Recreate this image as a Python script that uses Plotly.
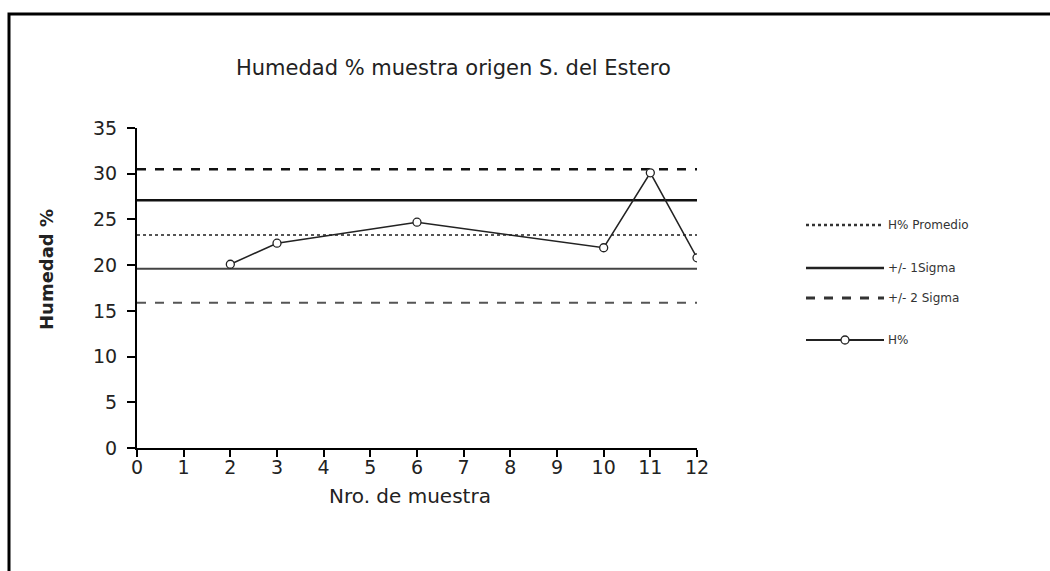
import plotly.graph_objects as go

# Moisture readings per sample number
muestras = [2, 3, 6, 10, 11, 12]
humedad = [20.1, 22.4, 24.7, 21.9, 30.1, 20.8]

# Control limits (mean and sigma bands)
x_limites = [0, 12]
promedio = 23.3
mas_1sigma = 27.1
menos_1sigma = 19.6
mas_2sigma = 30.5
menos_2sigma = 15.9

x_ticks = list(range(0, 13))
y_ticks = list(range(0, 36, 5))

FONT = "DejaVu Sans"

fig = go.Figure()

def limite(valor, dash, color, width):
    fig.add_trace(go.Scatter(
        x=x_limites, y=[valor, valor], mode="lines",
        line=dict(color=color, width=width, dash=dash),
        showlegend=False, hoverinfo="skip"))

limite(promedio, "dot", "#555555", 2)
limite(mas_1sigma, "solid", "#111111", 2.5)
limite(menos_1sigma, "solid", "#444444", 2)
limite(mas_2sigma, "dash", "#111111", 2.5)
limite(menos_2sigma, "dash", "#555555", 2)

fig.add_trace(go.Scatter(
    x=muestras, y=humedad, mode="lines+markers",
    line=dict(color="#222222", width=1.5),
    marker=dict(symbol="circle", size=8, color="white",
                line=dict(color="#222222", width=1.3)),
    showlegend=False))

# Plot area spans 560 x 320 px; helpers convert page pixels to paper coords
L, T, W, H = 137, 128, 560, 320
def px(x):
    return (x - L) / W
def py(y):
    return (T + H - y) / H

shapes = [dict(type="rect", xref="paper", yref="paper",
               x0=px(9), x1=px(1080), y0=py(14), y1=py(600),
               line=dict(color="black", width=3), fillcolor="rgba(0,0,0,0)")]

annotations = [
    dict(text="Humedad % muestra origen S. del Estero", xref="paper", yref="paper",
         x=px(453), y=py(68), xanchor="center", yanchor="middle", showarrow=False,
         font=dict(family=FONT, size=21, color="#222222")),
    dict(text="<b>Humedad %</b>", xref="paper", yref="paper",
         x=px(46), y=py(270), xanchor="center", yanchor="middle", showarrow=False,
         textangle=-90, font=dict(family=FONT, size=18, color="#222222")),
    dict(text="Nro. de muestra", xref="paper", yref="paper",
         x=px(410), y=py(496), xanchor="center", yanchor="middle", showarrow=False,
         font=dict(family=FONT, size=20, color="#222222")),
]

# Legend drawn beside the plot
leyenda = [
    ("H% Promedio", "dot", "#333333", 2.5, False, 225),
    ("+/- 1Sigma", "solid", "#222222", 2.5, False, 268),
    ("+/- 2 Sigma", "dash", "#333333", 3, False, 298),
    ("H%", "solid", "#222222", 2, True, 340),
]
for texto, dash, color, width, marca, yy in leyenda:
    shapes.append(dict(type="line", xref="paper", yref="paper",
                       x0=px(806), x1=px(884), y0=py(yy), y1=py(yy),
                       line=dict(color=color, width=width, dash=dash)))
    if marca:
        shapes.append(dict(type="circle", xref="paper", yref="paper",
                           x0=px(841), x1=px(849), y0=py(yy - 4), y1=py(yy + 4),
                           line=dict(color="#222222", width=1.3), fillcolor="white"))
    annotations.append(dict(text=texto, xref="paper", yref="paper",
                            x=px(886), y=py(yy), xanchor="left", yanchor="middle",
                            showarrow=False,
                            font=dict(family=FONT, size=12, color="#333333")))

fig.update_layout(
    width=1050, height=571,
    margin=dict(l=L, r=1050 - L - W, t=T, b=571 - T - H),
    paper_bgcolor="white", plot_bgcolor="white",
    showlegend=False,
    shapes=shapes, annotations=annotations,
    xaxis=dict(range=[0, 12], tickvals=x_ticks, showgrid=False, zeroline=False,
               showline=True, linecolor="black", linewidth=2,
               ticks="outside", ticklen=7, tickcolor="black", tickwidth=1.5,
               ticklabelstandoff=-6,
               tickfont=dict(family=FONT, size=19, color="#222222")),
    yaxis=dict(range=[0, 35], tickvals=y_ticks, showgrid=False, zeroline=False,
               showline=True, linecolor="black", linewidth=2,
               ticks="outside", ticklen=8, tickcolor="black", tickwidth=1.5,
               ticklabelstandoff=6,
               tickfont=dict(family=FONT, size=19, color="#222222")),
)

fig.write_html("out.html")
